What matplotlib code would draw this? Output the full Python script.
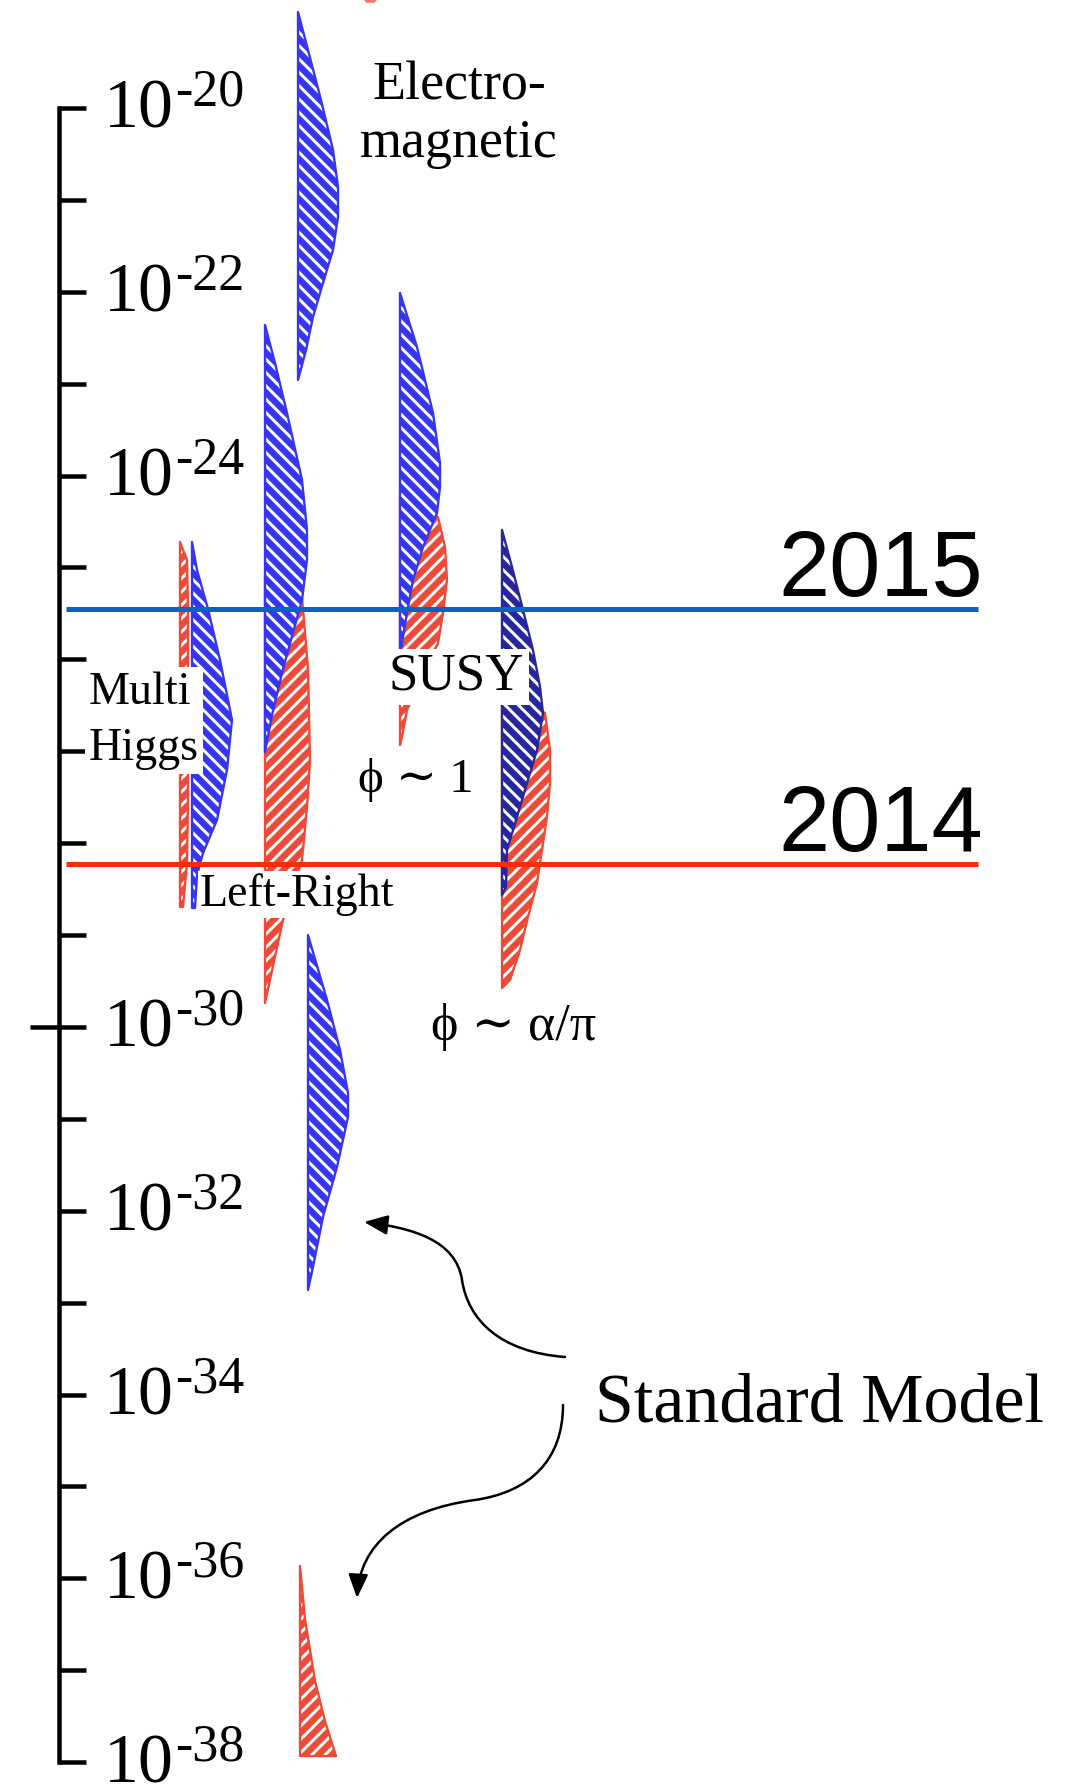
import matplotlib
matplotlib.use('Agg')
import matplotlib.pyplot as plt
import numpy as np
from matplotlib.path import Path
from matplotlib.patches import FancyArrowPatch
from matplotlib.ticker import FixedLocator, NullLocator
from matplotlib.transforms import offset_copy

W, H, DPI = 1066, 1787, 120
SERIF = ['Liberation Serif', 'DejaVu Serif']
SANS = ['Liberation Sans', 'DejaVu Sans']

plt.rcParams['hatch.linewidth'] = 1.8
plt.rcParams['hatch.color'] = 'white'

BLUE = '#3636f2'
NAVY = '#26269e'
RED = '#ee4a38'

# each prediction: log10(d_e) levels down the column and the width of the
# distribution at that level; the column starts at the given left position
em_left = 298
em_levels = [-18.955, -19.369, -19.913, -20.457, -20.860, -21.186, -21.545, -21.904, -22.274, -22.633, -22.960]
em_widths = [0, 10, 23, 35, 40, 40, 35, 25, 15, 8, 0]

mh_red_left = 180
mh_red_levels = [-24.722, -24.918, -25.452, -26.442, -27.530, -28.215, -28.694]
mh_red_widths = [0, 7, 8, 8, 8, 7, 3]

mh_blue_left = 192
mh_blue_levels = [-24.722, -25.027, -25.452, -26.007, -26.659, -27.203, -27.747, -28.107, -28.346, -28.705]
mh_blue_widths = [0, 5, 16, 28, 40, 35, 25, 11, 5, 3]

lr_left = 265
lr_blue_levels = [-22.361, -22.775, -23.319, -24.048, -24.592, -24.918, -25.354, -26.104, -26.605, -27.008]
lr_blue_widths = [0, 10, 22, 37, 42, 42, 37, 18, 7, 0]
lr_red_levels = [-25.082, -25.321, -26.104, -27.105, -27.606, -28.183, -28.836, -29.739]
lr_red_widths = [0, 37, 43, 45, 42, 37, 18, 0]

susy_left = 400
susy_blue_levels = [-22.013, -22.601, -23.319, -23.863, -24.124, -24.407, -24.777, -25.136, -25.495, -25.822, -26.007]
susy_blue_widths = [0, 17, 33, 40, 40, 37, 23, 13, 7, 2, 0]
susy_red_levels = [-24.211, -24.451, -24.777, -25.136, -25.495, -25.822, -26.551, -26.844, -26.932]
susy_red_widths = [0, 38, 45, 47, 43, 38, 7, 2, 0]

ap_left = 502
ap_blue_levels = [-24.592, -24.995, -25.462, -25.898, -26.300, -26.583, -26.986, -27.345, -27.715, -28.074, -28.477, -28.564]
ap_blue_widths = [0, 10, 21, 31, 38, 41, 35, 25, 15, 5, 4, 0]
ap_red_levels = [-26.333, -26.583, -26.986, -27.345, -27.715, -28.074, -28.433, -28.803, -29.162, -29.489, -29.576]
ap_red_widths = [0, 43, 48, 48, 45, 40, 35, 26, 18, 8, 0]

sm_blue_left = 308
sm_blue_levels = [-28.999, -29.706, -30.250, -30.718, -30.979, -31.523, -32.067, -32.611, -32.862]
sm_blue_widths = [0, 19, 32, 40, 40, 29, 15, 5, 0]

sm_red_left = 300
sm_red_levels = [-35.865, -36.442, -37.116, -37.552, -37.933]
sm_red_widths = [0, 5, 15, 25, 36]

# tail of a distribution running off the top
top_levels = [-18.70, -18.80, -18.85]
top_x1 = [362, 362, 366]
top_x2 = [378, 378, 374]

limit_years = ['2015', '2014']
limit_values = [3.5e-26, 6.0e-29]
limit_colors = ['#0a62c2', '#ff2a0a']

decades = np.arange(-38, -19)
label_exps = [-20, -22, -24, -30, -32, -34, -36, -38]


def pt(pixels):
    return pixels * 72.0 / DPI


def dist(ax, left, levels, widths, color, hatch, z):
    y = 10.0 ** np.asarray(levels)
    x2 = left + np.asarray(widths, dtype=float)
    ax.fill_betweenx(y, left, x2, facecolor=color, edgecolor='white',
                     hatch=hatch, linewidth=0, zorder=z)
    ax.fill_betweenx(y, left, x2, facecolor='none', edgecolor=color,
                     linewidth=1.4, zorder=z)


fig = plt.figure(figsize=(W / DPI, H / DPI), dpi=DPI)
ax = fig.add_axes([0, 0, 1, 1])
ax.set_xlim(0, W)
ax.set_yscale('log')
ax.set_ylim(10 ** -38.270, 10 ** -18.825)

for s in ['top', 'right', 'bottom']:
    ax.spines[s].set_visible(False)
ax.spines['left'].set_position(('data', 59))
ax.spines['left'].set_bounds(1e-38, 1e-20)
ax.spines['left'].set_linewidth(pt(4.5))
ax.spines['left'].set_capstyle('projecting')
ax.yaxis.set_major_locator(FixedLocator(10.0 ** decades))
ax.yaxis.set_minor_locator(NullLocator())
ax.tick_params(axis='y', which='major', direction='in', length=pt(27),
               width=pt(4.5), labelleft=False)
ax.set_xticks([])
ax.hlines(1e-30, 30, 59, color='k', lw=pt(4.5))

# decade labels: "10" with a raised exponent
base_tf = offset_copy(ax.transData, fig=fig, y=-pt(20), units='points')
for e in label_exps:
    t = ax.text(104, 10.0 ** e, '10', transform=base_tf, fontsize=pt(70),
                family=SERIF, va='baseline', ha='left')
    ax.annotate(f'{e}', xy=(1, 10.0 ** e), xycoords=(t, ax.transData),
                xytext=(pt(1), pt(2)), textcoords='offset points',
                fontsize=pt(52), family=SERIF, va='baseline', ha='left')

# distributions (red under blue)
ax.fill_betweenx(10.0 ** np.array(top_levels), top_x1, top_x2,
                 color='#f07868', lw=0, zorder=2)
dist(ax, em_left, em_levels, em_widths, BLUE, '\\\\\\', 3)
dist(ax, mh_red_left, mh_red_levels, mh_red_widths, RED, '///', 2)
dist(ax, mh_blue_left, mh_blue_levels, mh_blue_widths, BLUE, '\\\\\\', 3)
dist(ax, lr_left, lr_red_levels, lr_red_widths, RED, '///', 2)
dist(ax, lr_left, lr_blue_levels, lr_blue_widths, BLUE, '\\\\\\', 3)
dist(ax, susy_left, susy_red_levels, susy_red_widths, RED, '///', 2)
dist(ax, susy_left, susy_blue_levels, susy_blue_widths, BLUE, '\\\\\\', 3)
dist(ax, ap_left, ap_red_levels, ap_red_widths, RED, '///', 2)
dist(ax, ap_left, ap_blue_levels, ap_blue_widths, NAVY, '\\\\\\', 3)
dist(ax, sm_blue_left, sm_blue_levels, sm_blue_widths, BLUE, '\\\\\\', 3)
dist(ax, sm_red_left, sm_red_levels, sm_red_widths, RED, '///', 2)

# experimental limits
for year, val, col in zip(limit_years, limit_values, limit_colors):
    ax.hlines(val, 66, 978, color=col, lw=pt(5), zorder=6)
    tf = offset_copy(ax.transData, fig=fig, y=pt(13), units='points')
    ax.text(983, val, year, transform=tf, fontsize=pt(92), family=SANS,
            ha='right', va='baseline', zorder=6)


def yof(pix):
    # vertical pixel position (from the top) in data units
    return 10.0 ** (-20 - (pix - 108) / 91.9)


white = dict(facecolor='white', edgecolor='none', pad=pt(4))
ax.text(459, yof(100), 'Electro-', fontsize=pt(54), family=SERIF,
        ha='center', va='baseline')
ax.text(459, yof(157), 'magnetic', fontsize=pt(54), family=SERIF,
        ha='center', va='baseline')
ax.text(89, yof(760), 'Multi\nHiggs', fontsize=pt(46), family=SERIF,
        ha='left', va='baseline', linespacing=1.42, bbox=white, zorder=5)
ax.text(200, yof(906), 'Left-Right', fontsize=pt(46), family=SERIF,
        ha='left', va='baseline', bbox=dict(white, pad=pt(2)), zorder=5)
ax.text(389, yof(690), 'SUSY', fontsize=pt(53), family=SERIF,
        ha='left', va='baseline', bbox=white, zorder=5)
ax.text(358, yof(792), 'ϕ ∼ 1', fontsize=pt(49), family=SERIF,
        ha='left', va='baseline')
ax.text(431, yof(1040), 'ϕ ∼ α/π', fontsize=pt(52), family=SERIF,
        ha='left', va='baseline')
ax.text(595, yof(1422), 'Standard Model', fontsize=pt(70), family=SERIF,
        ha='left', va='baseline')


def px(x, y):
    return (x / W, 1 - y / H)


arrow_paths = [
    [(565, 1357), (500, 1352), (468, 1320), (462, 1280),
     (456, 1240), (412, 1228), (364, 1222)],
    [(563, 1405), (563, 1460), (530, 1492), (475, 1500),
     (400, 1510), (360, 1545), (357, 1598)],
]
for pts in arrow_paths:
    verts = [px(*p) for p in pts]
    codes = [Path.MOVETO] + [Path.CURVE4] * 6
    arr = FancyArrowPatch(path=Path(verts, codes), transform=ax.transAxes,
                          arrowstyle='-|>,head_length=0.6,head_width=0.25',
                          mutation_scale=20, lw=pt(2.5), color='k',
                          shrinkA=0, shrinkB=0, zorder=7)
    ax.add_patch(arr)

fig.savefig('out.png', dpi=DPI)
